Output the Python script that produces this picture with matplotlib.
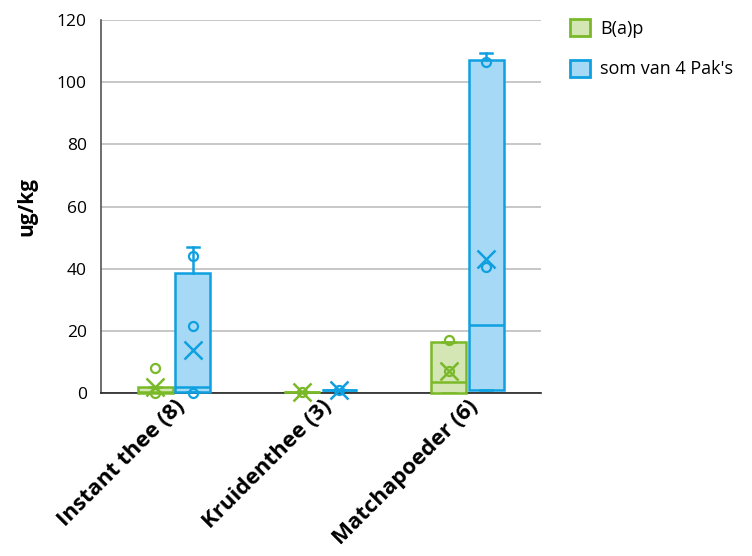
import matplotlib
matplotlib.use("Agg")
import matplotlib.pyplot as plt
from matplotlib.patches import Patch

plt.rcParams['font.family'] = ['Open Sans', 'DejaVu Sans']

categories = ['Instant thee (8)', 'Kruidenthee (3)', 'Matchapoeder (6)']
series_names = ['B(a)p', "som van 4 Pak's"]

# B(a)p
bap_q1 = [0.0, 0.3, 0.0]
bap_med = [0.3, 0.3, 3.5]
bap_q3 = [1.8, 0.3, 16.5]
bap_whislo = [0.0, 0.3, 0.0]
bap_whishi = [1.8, 0.3, 16.5]
bap_mean = [1.8, 0.3, 7.0]
bap_points = [[8.2, 0.0], [0.3], [17.2, 7.0]]

# som van 4 PAK's
pak_q1 = [0.3, 1.0, 1.0]
pak_med = [1.8, 1.0, 22.0]
pak_q3 = [38.5, 1.0, 107.0]
pak_whislo = [0.3, 1.0, 1.0]
pak_whishi = [47.0, 1.0, 109.5]
pak_mean = [14.0, 1.0, 43.0]
pak_points = [[44.0, 21.5, 0.0], [1.0], [106.5, 40.5]]

yticks = [0, 20, 40, 60, 80, 100, 120]

green_edge = '#7ab929'
green_fill = '#d3e6b3'
blue_edge = '#0ea0e0'
blue_fill = '#a6d9f6'

fig = plt.figure(figsize=(7.52, 5.56), dpi=100)
ax = fig.add_axes([0.134, 0.293, 0.585, 0.671])

def stats(q1, med, q3, lo, hi, mean, pts):
    out = []
    for i in range(len(q1)):
        out.append(dict(q1=q1[i], med=med[i], q3=q3[i], whislo=lo[i], whishi=hi[i],
                        mean=mean[i], fliers=pts[i], label=''))
    return out

offset = 0.128
width = 0.24
xs = list(range(len(categories)))

for st, pos, edge, fill in [
    (stats(bap_q1, bap_med, bap_q3, bap_whislo, bap_whishi, bap_mean, bap_points), [x - offset for x in xs], green_edge, green_fill),
    (stats(pak_q1, pak_med, pak_q3, pak_whislo, pak_whishi, pak_mean, pak_points), [x + offset for x in xs], blue_edge, blue_fill),
]:
    res = ax.bxp(st, positions=pos, widths=width, patch_artist=True, showmeans=True,
           showfliers=True, manage_ticks=False,
           boxprops=dict(facecolor=fill, edgecolor=edge, linewidth=1.8),
           medianprops=dict(color=edge, linewidth=1.8),
           whiskerprops=dict(color=edge, linewidth=1.8),
           capprops=dict(color=edge, linewidth=1.8),
           capwidths=width * 0.35,
           meanprops=dict(marker='x', markeredgecolor=edge, markersize=13, markeredgewidth=1.8),
           flierprops=dict(marker='o', markerfacecolor='none', markeredgecolor=edge,
                           markersize=6.5, markeredgewidth=1.6),
           zorder=3)
    for key in ['fliers', 'means', 'boxes', 'medians']:
        for art in res[key]:
            art.set_clip_on(False)
    for art in res['fliers'] + res['means']:
        art.set_zorder(4)

ax.set_xlim(-0.5, 2.5)
ax.set_ylim(0, 120)
ax.set_yticks(yticks)
ax.set_yticklabels([str(t) for t in yticks], fontsize=12.5)
ax.yaxis.grid(True, color='#bdbdbd', linewidth=1.2)
ax.set_axisbelow(True)
ax.tick_params(axis='both', length=0)
ax.tick_params(axis='y', pad=10)
ax.set_xticks(xs)
ax.set_xticklabels(categories, rotation=45, ha='right', rotation_mode='anchor',
                   fontsize=16, fontweight='bold')
ax.tick_params(axis='x', pad=2)
for s in ['top', 'right']:
    ax.spines[s].set_visible(False)
ax.spines['left'].set_color('#555555')
ax.spines['left'].set_linewidth(1.2)
ax.spines['bottom'].set_color('#222222')
ax.spines['bottom'].set_linewidth(1.2)
ax.spines['bottom'].set_zorder(2.5)
ax.set_ylabel('ug/kg', fontsize=15, fontweight='bold', labelpad=14)

handles = [Patch(facecolor=green_fill, edgecolor=green_edge, linewidth=2),
           Patch(facecolor=blue_fill, edgecolor=blue_edge, linewidth=2)]
fig.legend(handles, series_names, loc='upper left', bbox_to_anchor=(0.736, 0.995),
           frameon=False, fontsize=13, handlelength=1.1, handleheight=1.1,
           labelspacing=1.2, handletextpad=0.6)

fig.savefig('out.png', dpi=100)
